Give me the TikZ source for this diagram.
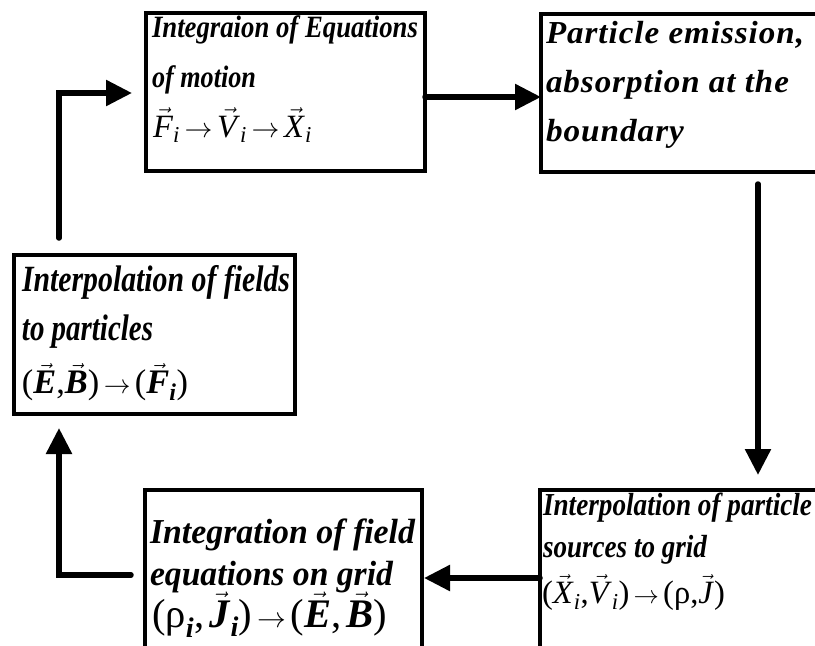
\documentclass[tikz,border=0pt]{standalone}
\usepackage{amsmath}
\usepackage{graphicx}
\usepackage{fontspec}
\setmainfont{Liberation Serif}
\newfontfamily\spacedfont[LetterSpace=3]{Liberation Serif}
\usetikzlibrary{arrows.meta,calc}
\newcommand\fl[3]{\resizebox{#2pt}{\height}{\fontsize{#1pt}{#1pt}\selectfont #3}}
\newcommand\fu[3]{\resizebox{#2pt}{!}{\fontsize{#1pt}{#1pt}\selectfont #3}}
\newcommand\bi[1]{\textbf{\textit{#1}}}
\newcommand\mi[1]{\textnormal{\textit{#1}}}
\newcommand\tu[1]{\textnormal{#1}}
\newcommand\ra{\,{\rightarrow}\,}
\tikzset{
  box/.style={draw=black, line width=4pt, fill=white, outer sep=0pt, inner sep=0pt, anchor=north west},
  txt/.style={anchor=base west, inner sep=0pt, outer sep=0pt},
  arr/.style={line width=5.5pt, -{Triangle[length=26pt,width=25pt]}, line cap=round, line join=miter}
}
\begin{document}
\begin{tikzpicture}[x=1pt,y=-1pt]
\useasboundingbox (0,0) rectangle (815,646);
\clip (0,0) rectangle (815,646);
% boxes
\node[box, minimum width=279pt, minimum height=158pt] (b1) at (146,13) {};
\node[box, minimum width=500pt, minimum height=158pt] (b2) at (541,14) {};
\node[box, minimum width=281pt, minimum height=159pt] (b3) at (14,255) {};
\node[box, minimum width=277pt, minimum height=300pt] (b4) at (145,490) {};
\node[box, minimum width=400pt, minimum height=300pt] (b5) at (540,490) {};
% box 1 text
\node[txt] (t11) at (152,37) {\fl{31}{266}{\bfseries\itshape Integraion of Equations}};
\node[txt] (t12) at (152,87) {\fl{31}{104}{\bfseries\itshape of motion}};
\node[txt] (t13) at (153,137) {\fu{29}{159}{$\vec{\mi{F}}_{\mi{i}}\ra\vec{\mi{V}}_{\mi{i}}\ra\vec{\mi{X}}_{\mi{i}}$}};
% box 2 text
\node[txt] (t21) at (546,43) {\fl{32}{258}{\spacedfont\bfseries\itshape Particle emission,}};
\node[txt] (t22) at (546,92) {\fl{32}{243}{\spacedfont\bfseries\itshape absorption at the}};
\node[txt] (t23) at (546,141) {\fl{32}{138}{\spacedfont\bfseries\itshape boundary}};
% box 3 text
\node[txt] (t31) at (22,291) {\fl{37}{268}{\bfseries\itshape Interpolation of fields}};
\node[txt] (t32) at (22,340) {\fl{37}{131}{\bfseries\itshape to particles}};
\node[txt] (t33) at (22,393) {\fu{32}{166}{$\tu{(}\vec{\bi{E}}\tu{,}\vec{\bi{B}}\tu{)}\ra\tu{(}\vec{\bi{F}}_{\bi{i}}\tu{)}$}};
% box 4 text
\node[txt] (t41) at (150,543) {\fl{35}{265}{\bfseries\itshape Integration of field}};
\node[txt] (t42) at (150,585) {\fl{35}{243}{\bfseries\itshape equations on grid}};
\node[txt] (t43) at (152,627) {\fu{35}{235}{$\tu{(}\tu{ρ}_{\bi{i}}\tu{,}\,\vec{\bi{J}}_{\bi{i}}\tu{)}\ra\tu{(}\vec{\bi{E}}\tu{,}\,\vec{\bi{B}}\tu{)}$}};
% box 5 text
\node[txt] (t51) at (543,515) {\fl{32}{269}{\bfseries\itshape Interpolation of particle}};
\node[txt] (t52) at (543,557) {\fl{32}{164}{\bfseries\itshape sources to grid}};
\node[txt] (t53) at (542,603) {\fu{32}{183}{$\tu{(}\vec{\mi{X}}_{\mi{i}}\tu{,}\vec{\mi{V}}_{\mi{i}}\tu{)}\ra\tu{(}\tu{ρ}\tu{,}\vec{\mi{J}}\tu{)}$}};
% connectors
\draw[arr] ($(b1.north east)+(0,84)$) -- ($(b2.north west)+(0,83)$);
\draw[arr] ($(b2.south west)+(217,12)$) -- ($(b5.north west)+(218,-15)$);
\draw[arr] ($(b5.north west)+(0,88)$) -- ($(b4.north east)+(2,88)$);
\draw[arr] ($(b4.north west)+(-14,85)$) -| ($(b3.south west)+(45,14)$);
\draw[arr] ($(b3.north west)+(45,-17)$) |- ($(b1.north west)+(-14,80)$);
\end{tikzpicture}
\end{document}
